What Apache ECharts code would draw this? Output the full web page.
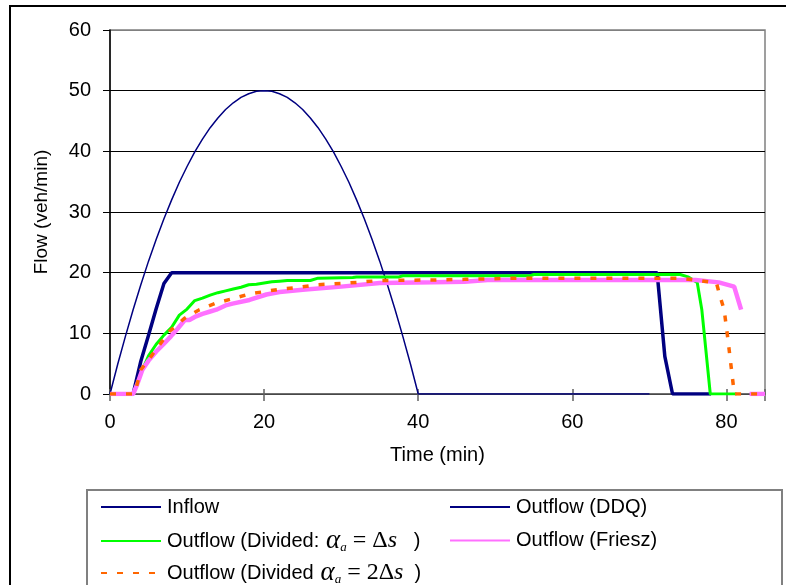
<!DOCTYPE html>
<html>
<head>
<meta charset="utf-8">
<script src="https://cdn.jsdelivr.net/npm/echarts@6/dist/echarts.min.js"></script>
<style>
  html, body { margin: 0; padding: 0; background: #fff; }
  #chart { width: 786px; height: 585px; }
</style>
</head>
<body>
<div id="chart"></div>
<script>
// ---- data: [time (min), flow (veh/min)] ----
const xTicks = [0, 20, 40, 60, 80];
const yTicks = [0, 10, 20, 30, 40, 50, 60];

const seriesNames = [
  'Inflow',
  'Outflow (DDQ)',
  'Outflow (Divided: \u03b1a = \u0394s)',
  'Outflow (Friesz)',
  'Outflow (Divided \u03b1a = 2\u0394s)'
];

const inflow = [
  [0, 0], [1, 4.9], [2, 9.5], [3, 13.9], [4, 18], [5, 21.9], [6, 25.5], [7, 28.9],
  [8, 32], [9, 34.9], [10, 37.5], [11, 39.9], [12, 42], [13, 43.9], [14, 45.5],
  [15, 46.9], [16, 48], [17, 48.9], [18, 49.5], [19, 49.9], [20, 50], [21, 49.9],
  [22, 49.5], [23, 48.9], [24, 48], [25, 46.9], [26, 45.5], [27, 43.9], [28, 42],
  [29, 39.9], [30, 37.5], [31, 34.9], [32, 32], [33, 28.9], [34, 25.5], [35, 21.9],
  [36, 18], [37, 13.9], [38, 9.5], [39, 4.9], [40, 0], [70, 0]
];

const outflowDDQ = [
  [0, 0], [3, 0], [4, 5.4], [5, 9.7], [6, 14.1], [7, 18.2], [8, 20],
  [71, 20], [72, 6.2], [73, 0], [78, 0]
];

const outflowDiv1 = [
  [0, 0], [3, 0], [4, 3.4], [5, 6.3], [6, 8.2], [7, 9.7], [8, 11], [9, 13],
  [10, 14], [11, 15.4], [12, 15.8], [13, 16.3], [14, 16.7], [15, 17], [16, 17.3],
  [17, 17.6], [18, 18], [19, 18.1], [20, 18.3], [21, 18.5], [22, 18.6], [23, 18.7],
  [26, 18.7], [27, 19.1], [31.5, 19.2], [32, 19.3], [37.5, 19.3], [38, 19.5],
  [54.5, 19.5], [55, 19.7], [74, 19.7], [75, 19.3], [76.2, 18.4], [76.8, 13.9],
  [77.9, 0], [81.3, 0]
];

const outflowFriesz = [
  [0, 0], [3, 0], [3.5, 1.5], [4.2, 4], [5, 5.5], [6, 7], [7, 8.3], [7.9, 9.5],
  [8.8, 10.8], [9.7, 12.2], [10.3, 12.2], [11, 12.7], [12, 13.2], [13, 13.6],
  [13.8, 13.9], [15, 14.6], [15.9, 14.9], [18.1, 15.5], [20.3, 16.4], [22, 16.8],
  [25, 17.2], [30, 17.7], [35, 18.3], [42, 18.4], [46, 18.5], [49, 18.8],
  [76, 18.8], [79, 18.4], [81, 17.7], [81.9, 13.9], [82.4, null], [83, 0], [85, 0]
];

const outflowDiv2 = [
  [0, 0], [3, 0], [3.4, 1], [4, 4], [5.5, 6.5], [7.7, 10.3], [9.7, 12.5],
  [11.6, 13.9], [13.8, 15], [15.9, 15.7], [18.1, 16.5], [22.2, 17.3], [24.6, 17.6],
  [26.8, 18], [31, 18.3], [35, 18.7], [42, 18.8], [46, 18.9], [53, 19.1], [74, 19.1],
  [76.5, 18.7], [78.7, 18.3], [79.1, 16.4], [79.7, 13.9], [80.2, 8.9], [80.9, 1.3],
  [81, 0], [85, 0]
];

// ---- chart ----
const sans = 'Liberation Sans, Arial, sans-serif';
const serif = 'Liberation Serif, Times New Roman, serif';
const legendRich = {
  n: { fontFamily: sans, fontSize: 20, color: '#000', lineHeight: 26 },
  a: { fontFamily: serif, fontStyle: 'italic', fontSize: 27, color: '#000', lineHeight: 26 },
  sub: { fontFamily: serif, fontStyle: 'italic', fontSize: 13, color: '#000', lineHeight: 12, verticalAlign: 'bottom' },
  m: { fontFamily: serif, fontSize: 24, color: '#000', lineHeight: 26 },
  mi: { fontFamily: serif, fontStyle: 'italic', fontSize: 24, color: '#000', lineHeight: 26 }
};
function legendFmt(name) {
  if (name === seriesNames[2]) return '{n|Outflow (Divided:}{a| \u03b1}{sub|a}{m| = \u0394}{mi|s}{n|   )}';
  if (name === seriesNames[4]) return '{n|Outflow (Divided}{a| \u03b1}{sub|a}{m| = 2\u0394}{mi|s}{n|  )}';
  return '{n|' + name + '}';
}
function mkLegend(name, left, top) {
  return {
    data: [name], left: left, top: top, orient: 'horizontal',
    padding: 0, itemWidth: 60, itemHeight: 14, itemGap: 0,
    selectedMode: false, formatter: legendFmt,
    itemStyle: { opacity: 0 },
    textStyle: { fontFamily: sans, fontSize: 20, color: '#000', rich: legendRich, padding: [0, 0, 0, 1] }
  };
}

const chart = echarts.init(document.getElementById('chart'), null, { renderer: 'canvas' });
chart.setOption({
  animation: false,
  backgroundColor: '#fff',
  graphic: [
    { type: 'rect', shape: { x: 10, y: 6, width: 800, height: 620 }, style: { fill: 'none', stroke: '#000', lineWidth: 2 }, z: -10 },
    { type: 'rect', shape: { x: 87, y: 490, width: 695, height: 120 }, style: { fill: '#fff', stroke: '#808080', lineWidth: 2 }, z: -5 }
  ],
  grid: { left: 110, right: 21, top: 30, bottom: 191, show: true, borderColor: '#808080', borderWidth: 1.5 },
  legend: [
    mkLegend(seriesNames[0], 100, 497),
    mkLegend(seriesNames[2], 100, 527.5),
    mkLegend(seriesNames[4], 100, 559.5),
    mkLegend(seriesNames[1], 449, 497),
    mkLegend(seriesNames[3], 449, 530.5)
  ],
  xAxis: [
    {
      type: 'value', min: 0, max: 85, interval: 20, position: 'bottom',
      name: 'Time (min)', nameLocation: 'middle', nameGap: 51,
      nameTextStyle: { fontFamily: sans, fontSize: 20, color: '#000' },
      axisLine: { lineStyle: { color: '#606060', width: 1.5 } },
      axisTick: { show: true, length: 7, lineStyle: { color: '#606060', width: 1.5 } },
      axisLabel: { fontFamily: sans, fontSize: 20, color: '#000', margin: 18,
        formatter: v => (xTicks.indexOf(v) >= 0 ? String(v) : '') },
      splitLine: { show: false }
    },
    {
      type: 'value', min: 0, max: 85, interval: 20, position: 'bottom',
      axisLine: { show: false },
      axisTick: { show: true, inside: true, length: 5, lineStyle: { color: '#606060', width: 1.5 } },
      axisLabel: { show: false }, splitLine: { show: false }
    }
  ],
  yAxis: {
    type: 'value', min: 0, max: 60, interval: 10,
    name: 'Flow (veh/min)', nameLocation: 'middle', nameGap: 59, nameRotate: 90,
    nameTextStyle: { fontFamily: sans, fontSize: 19, color: '#000' },
    axisLine: { show: true, lineStyle: { color: '#000', width: 1.5 } },
    axisTick: { show: true, length: 7, lineStyle: { color: '#000', width: 1 } },
    axisLabel: { fontFamily: sans, fontSize: 20, color: '#000', margin: 19,
      formatter: v => (yTicks.indexOf(v) >= 0 ? String(v) : '') },
    splitLine: { show: true, lineStyle: { color: ['#000', '#000', '#000', '#000', '#000', '#000', '#808080'], width: 1.2 } }
  },
  series: [
    { name: seriesNames[0], type: 'line', data: inflow, symbol: 'none', lineStyle: { color: '#000080', width: 1.5 }, itemStyle: { color: '#000080' } },
    { name: seriesNames[1], type: 'line', data: outflowDDQ, symbol: 'none', lineStyle: { color: '#000080', width: 3.5 }, itemStyle: { color: '#000080' } },
    { name: seriesNames[2], type: 'line', data: outflowDiv1, symbol: 'none', lineStyle: { color: '#00ff00', width: 3 }, itemStyle: { color: '#00ff00' } },
    { name: seriesNames[3], type: 'line', data: outflowFriesz, symbol: 'none', connectNulls: false, lineStyle: { color: '#ff70ff', width: 4.5 }, itemStyle: { color: '#ff70ff' } },
    { name: seriesNames[4], type: 'line', data: outflowDiv2, symbol: 'none', lineStyle: { color: '#ff6600', width: 3.5, type: [6, 10] }, itemStyle: { color: '#ff6600' } }
  ]
});
</script>
</body>
</html>
